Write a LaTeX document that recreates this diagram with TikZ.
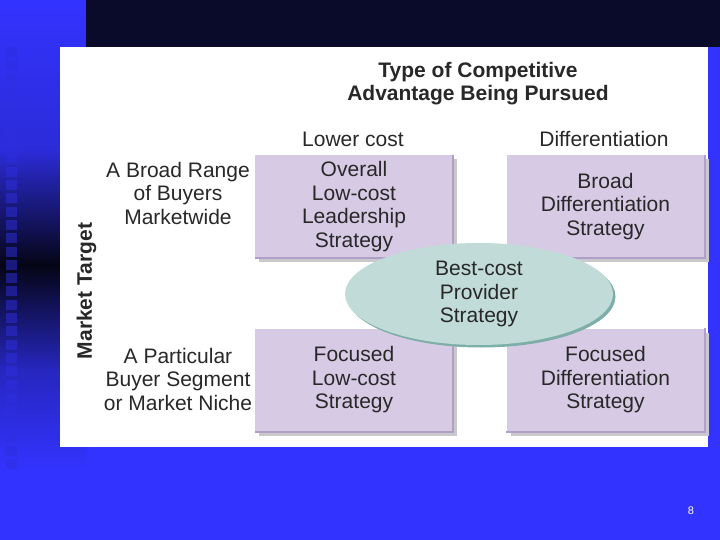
\documentclass[tikz,border=0pt]{standalone}
\usepackage{fontspec}
\setmainfont{Liberation Sans}
\usetikzlibrary{shapes.geometric,shadows}
\definecolor{sb}{RGB}{51,51,255}
\definecolor{navy}{RGB}{10,10,42}
\definecolor{nearblack}{RGB}{5,5,22}
\definecolor{lav}{RGB}{214,202,229}
\definecolor{lavedge}{RGB}{176,160,200}
\definecolor{shgray}{RGB}{200,200,205}
\definecolor{tealfill}{RGB}{193,220,216}
\definecolor{tealedge}{RGB}{125,174,168}
\definecolor{txt}{RGB}{40,40,40}
\definecolor{sqcol}{RGB}{46,46,225}
\begin{document}
\begin{tikzpicture}[x=1pt,y=-1pt,
  lbl/.style={font=\fontsize{21}{23.5}\selectfont, text=txt, align=center, inner sep=0pt},
  ttl/.style={font=\bfseries\fontsize{21}{23}\selectfont, text=txt, align=center, inner sep=0pt},
  stratbox/.style={rectangle, fill=lav, minimum width=198pt, minimum height=103pt, inner sep=0pt,
    drop shadow={shadow xshift=4pt, shadow yshift=-4pt, fill=shgray, opacity=1}},
  bevel/.style={draw=lavedge, line width=1.6pt},
  bestcost/.style={ellipse, fill=tealfill, minimum width=268pt, minimum height=102pt, inner sep=0pt,
    drop shadow={shadow xshift=2.5pt, shadow yshift=-2.5pt, fill=tealedge, opacity=1}}
]
\useasboundingbox (0,0) rectangle (720,540);
% background
\fill[sb] (0,0) rectangle (720,540);
\shade[top color=sb, bottom color=sb!85!black] (0,0) rectangle (86,150);
\shade[top color=sb!85!black, bottom color=nearblack] (0,150) rectangle (86,265);
\shade[top color=nearblack, bottom color=sb!75!black] (0,265) rectangle (86,370);
\shade[top color=sb!75!black, bottom color=sb] (0,370) rectangle (86,470);
\foreach \i in {0,...,31}
  \fill[sqcol, opacity=0.5] (6,47+\i*13.3) rectangle (17,57+\i*13.3);
\fill[navy] (86,0) rectangle (720,47);
% white panel
\fill[white] (60,47) rectangle (708,447);

% headings
\node[ttl] (title) at (478,84) {Type of Competitive\\Advantage Being Pursued};
\node[lbl, anchor=base] (lc) at (353,147) {Lower cost};
\node[lbl, anchor=base] (diff) at (604,147) {Differentiation};
\node[ttl, rotate=90] (mt) at (86.5,291) {Market Target};
\node[lbl] (broad) at (178,193) {A Broad Range\\of Buyers\\Marketwide};
\node[lbl] (niche) at (178,379) {A Particular\\Buyer Segment\\or Market Niche};

% strategy boxes
\node[stratbox] (tl) at (354,206.5) {};
\node[stratbox] (tr) at (605.5,206.5) {};
\node[stratbox] (bl) at (354,380) {};
\node[stratbox] (br) at (605.5,380) {};
\foreach \b in {tl,tr,bl,br}
  \draw[bevel] (\b.north east) -- (\b.south east) -- (\b.south west);
\node[lbl] (tlt) at (tl) {Overall\\Low-cost\\Leadership\\Strategy};
\node[lbl] (trt) at (tr) {Broad\\Differentiation\\Strategy};
\node[lbl] (blt) at (bl) {Focused\\Low-cost\\Strategy};
\node[lbl] (brt) at (br) {Focused\\Differentiation\\Strategy};

% best-cost ellipse
\node[bestcost] (bc) at (479,294) {};
\node[lbl] (bct) at (bc) {Best-cost\\Provider\\Strategy};

% page number
\node[text=white, font=\fontsize{11}{13}\selectfont, inner sep=0pt] (pg) at (691,511) {8};
\end{tikzpicture}
\end{document}
